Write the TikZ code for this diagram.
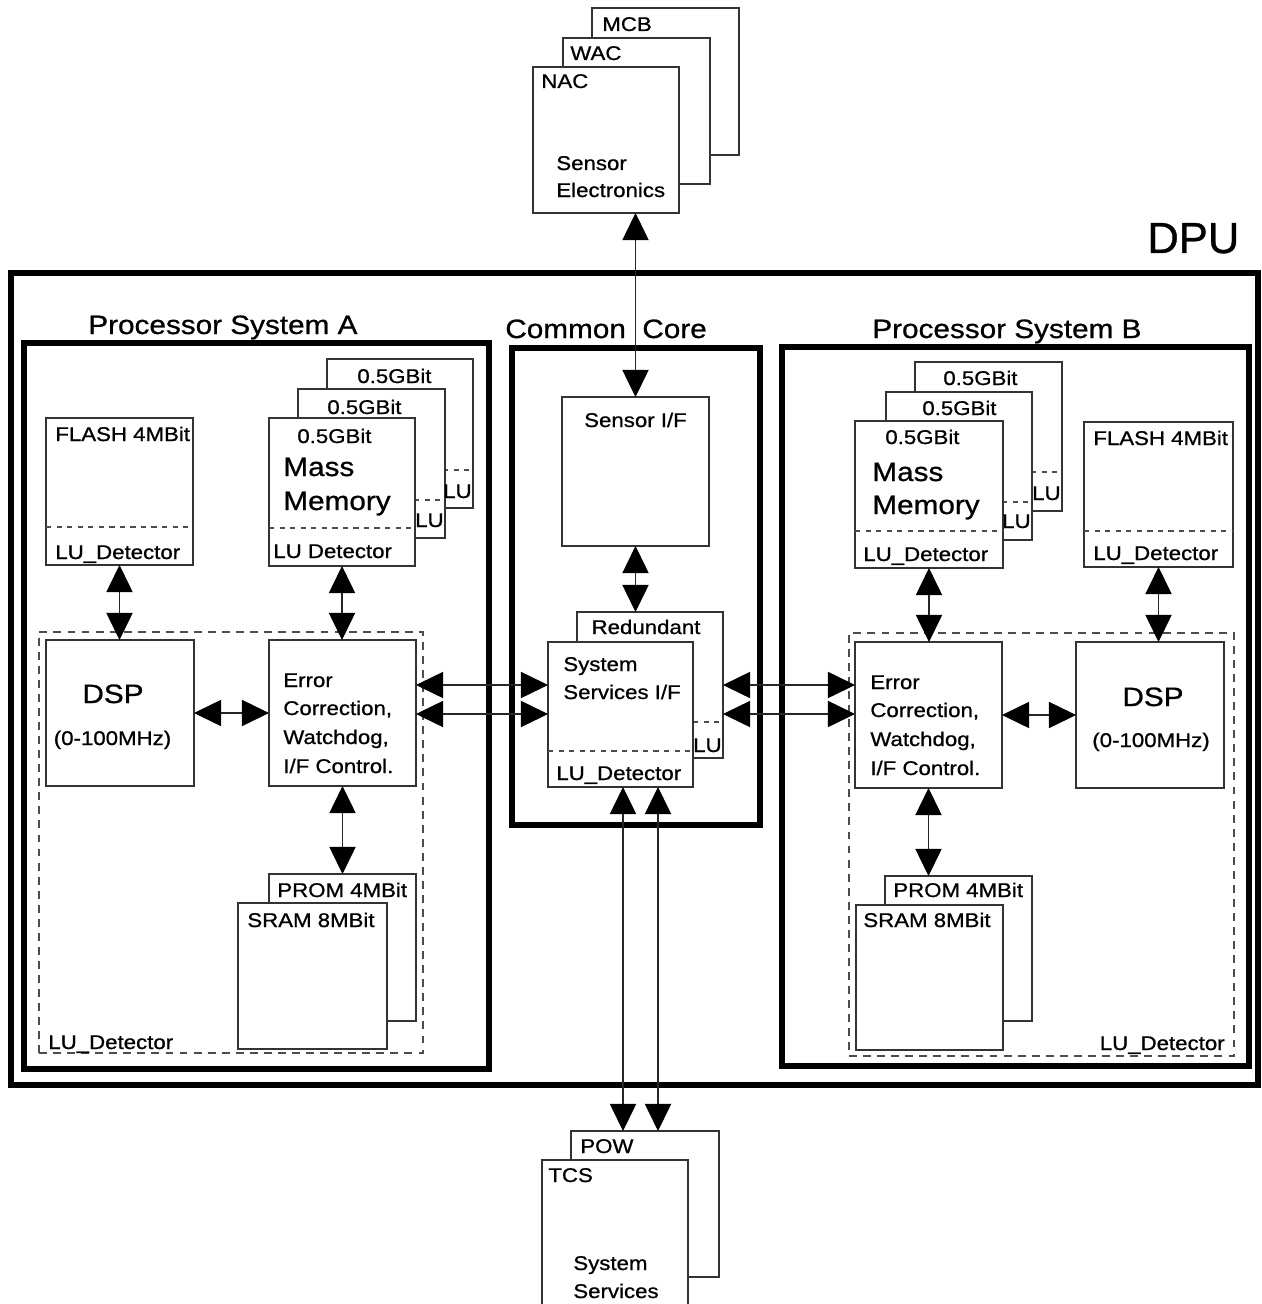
\documentclass[tikz,border=0pt]{standalone}
\usepackage{fontspec}
\setmainfont{Liberation Sans}[FakeStretch=1.12, FakeBold=0.8]
\newfontfamily\dpufont{Liberation Sans}[FakeBold=0.8]
\usetikzlibrary{arrows.meta,calc}
\begin{document}
\begin{tikzpicture}[x=0.02cm,y=-0.02cm,
  sz/.style 2 args={minimum width=#1*0.02cm, minimum height=#2*0.02cm},
  bx/.style={draw=black!80, line width=0.6pt, fill=white, inner sep=0pt, outer sep=0pt},
  frm/.style={draw=black, line width=3.9pt, inner sep=0pt, outer sep=0pt},
  dzone/.style={draw=black!70, line width=0.6pt, dash pattern=on 4.5pt off 3.5pt, inner sep=0pt, outer sep=0pt},
  sep/.style={draw=black!70, line width=0.6pt, dash pattern=on 3pt off 3pt},
  sm/.style={inner sep=0pt, anchor=base west, font=\fontsize{11.3}{13}\selectfont},
  lg/.style={inner sep=0pt, anchor=base west, font=\fontsize{15.1}{18}\selectfont},
  dbl/.style={{Triangle[length=15.5pt,width=15pt,color=black,fill=black]}-{Triangle[length=15.5pt,width=15pt,color=black,fill=black]}, line width=0.6pt, draw=black!85},
]
\useasboundingbox (0,0) rectangle (1261,1304);
\fill[white] (0,0) rectangle (1261,1304);

% ---------- sensor electronics stack
\node[bx, sz={147}{147}] (mcb) at (665.5,81.5) {};
\node[sm] (mcbt) at (602,31) {MCB};
\node[bx, sz={147}{146}] (wac) at (636.5,111) {};
\node[sm] (wact) at (570,60) {WAC};
\node[bx, sz={146}{146}] (nac) at (606,140) {};
\node[sm] (nact) at (541,88) {NAC};
\node[sm] (se1) at (556,170) {Sensor};
\node[sm] (se2) at (556,197) {Electronics};

% ---------- DPU and frames
\node[frm, line width=2.9pt, sz={1247}{812}] (dpu) at (634.5,679) {};
\node[inner sep=0pt, anchor=base west, font=\dpufont\fontsize{24.8}{28}\selectfont] (dput) at (1147,253) {DPU};

\node[frm, sz={465}{726}] (psa) at (256.5,706) {};
\node[lg] (psat) at (88,334) {Processor System A};
\node[frm, sz={248}{477}] (cc) at (636,586.5) {};
\node[lg] (cct) at (505,338) {Common~~Core};
\node[frm, sz={467}{719}] (psb) at (1015.5,706.5) {};
\node[lg] (psbt) at (872,338) {Processor System B};

% ---------- Processor System A
\node[dzone, sz={384}{421}] (dzA) at (231,842.5) {};
\node[sm] (dzAt) at (48,1049) {LU\_Detector};

\node[bx, sz={147}{147}] (flA) at (119.5,491.5) {};
\draw[sep] ($(flA.south west)+(0,-38)$) -- ($(flA.south east)+(0,-38)$);
\node[sm] (flAt) at (55,441) {FLASH 4MBit};
\node[sm] (flAl) at (55,559) {LU\_Detector};

\node[bx, sz={146}{149}] (mA3) at (400,433.5) {};
\draw[sep] ($(mA3.south west)+(0,-38)$) -- ($(mA3.south east)+(0,-38)$);
\node[sm] (mA3t) at (357,383) {0.5GBit};
\node[bx, sz={147}{149}] (mA2) at (371.5,463.5) {};
\draw[sep] ($(mA2.south west)+(0,-38)$) -- ($(mA2.south east)+(0,-38)$);
\node[sm] (mA2t) at (327,414) {0.5GBit};
\node[sm, anchor=base east] (mA3l) at (472,498) {LU};
\node[bx, sz={146}{148}] (mA) at (342,492) {};
\draw[sep] ($(mA.south west)+(0,-38)$) -- ($(mA.south east)+(0,-38)$);
\node[sm, anchor=base east] (mA2l) at (444,527) {LU};
\node[sm] (mAt) at (297,443) {0.5GBit};
\node[lg] (mAm1) at (283,476) {Mass};
\node[lg] (mAm2) at (283,510) {Memory};
\node[sm] (mAl) at (273,558) {LU Detector};

\node[bx, sz={148}{146}] (dspA) at (120,713) {};
\node[lg, anchor=base] (dspAt) at (113,703) {DSP};
\node[sm, anchor=base] (dspAf) at (112.5,745) {(0-100MHz)};

\node[bx, sz={147}{146}] (errA) at (342.5,713) {};
\node[sm] (errA1) at (283,687) {Error};
\node[sm] (errA2) at (283,715) {Correction,};
\node[sm] (errA3) at (283,744) {Watchdog,};
\node[sm] (errA4) at (283,773) {I/F Control.};

\node[bx, sz={147}{147}] (promA) at (342.5,947.5) {};
\node[sm] (promAt) at (277,897) {PROM 4MBit};
\node[bx, sz={149}{146}] (sramA) at (312.5,976) {};
\node[sm] (sramAt) at (247,927) {SRAM 8MBit};

% ---------- Common core
\node[bx, sz={147}{149}] (sif) at (635.5,471.5) {};
\node[sm, anchor=base] (sift) at (635.5,427) {Sensor I/F};

\node[bx, sz={146}{146}] (red) at (650,685) {};
\draw[sep] ($(red.south west)+(0,-36)$) -- ($(red.south east)+(0,-36)$);
\node[sm, anchor=base] (redt) at (646,634) {Redundant};
\node[bx, sz={145}{145}] (sys) at (620.5,714.5) {};
\draw[sep] ($(sys.south west)+(0,-36)$) -- ($(sys.south east)+(0,-36)$);
\node[sm, anchor=base east] (redl) at (722,752) {LU};
\node[sm] (syst1) at (563,671) {System};
\node[sm] (syst2) at (563,699) {Services I/F};
\node[sm] (sysl) at (556,780) {LU\_Detector};

% ---------- System services stack
\node[bx, sz={148}{146}] (pow) at (645,1204) {};
\node[sm] (powt) at (580,1153) {POW};
\node[bx, sz={146}{150}] (tcs) at (615,1235) {};
\node[sm] (tcst) at (548,1182) {TCS};
\node[sm] (tcs1) at (573,1270) {System};
\node[sm] (tcs2) at (573,1298) {Services};

% ---------- Processor System B
\node[dzone, sz={385}{423}] (dzB) at (1041.5,844.5) {};
\node[sm, anchor=base east] (dzBt) at (1225,1050) {LU\_Detector};

\node[bx, sz={147}{149}] (mB3) at (988.5,436.5) {};
\draw[sep] ($(mB3.south west)+(0,-39)$) -- ($(mB3.south east)+(0,-39)$);
\node[sm] (mB3t) at (943,385) {0.5GBit};
\node[bx, sz={146}{148}] (mB2) at (959,466) {};
\draw[sep] ($(mB2.south west)+(0,-38)$) -- ($(mB2.south east)+(0,-38)$);
\node[sm] (mB2t) at (922,415) {0.5GBit};
\node[sm, anchor=base east] (mB3l) at (1061,500) {LU};
\node[bx, sz={148}{147}] (mB) at (929,494.5) {};
\draw[sep] ($(mB.south west)+(0,-37)$) -- ($(mB.south east)+(0,-37)$);
\node[sm, anchor=base east] (mB2l) at (1031,528) {LU};
\node[sm] (mBt) at (885,444) {0.5GBit};
\node[lg] (mBm1) at (872,481) {Mass};
\node[lg] (mBm2) at (872,514) {Memory};
\node[sm] (mBl) at (863,561) {LU\_Detector};

\node[bx, sz={149}{145}] (flB) at (1158.5,494.5) {};
\draw[sep] ($(flB.south west)+(0,-36)$) -- ($(flB.south east)+(0,-36)$);
\node[sm] (flBt) at (1093,445) {FLASH 4MBit};
\node[sm] (flBl) at (1093,560) {LU\_Detector};

\node[bx, sz={147}{146}] (errB) at (928.5,715) {};
\node[sm] (errB1) at (870,689) {Error};
\node[sm] (errB2) at (870,717) {Correction,};
\node[sm] (errB3) at (870,746) {Watchdog,};
\node[sm] (errB4) at (870,775) {I/F Control.};

\node[bx, sz={148}{146}] (dspB) at (1150,715) {};
\node[lg, anchor=base] (dspBt) at (1153,706) {DSP};
\node[sm, anchor=base] (dspBf) at (1151,747) {(0-100MHz)};

\node[bx, sz={147}{145}] (promB) at (958.5,948.5) {};
\node[sm] (promBt) at (893,897) {PROM 4MBit};
\node[bx, sz={147}{145}] (sramB) at (929.5,977.5) {};
\node[sm] (sramBt) at (863,927) {SRAM 8MBit};

% ---------- connectors
\draw[dbl] (sif.north |- nac.south) -- (sif.north);
\draw[dbl] (sif.south) -- (sif.south |- red.north);
\draw[dbl] ($(sys.south)+(2.5,0)$) coordinate (b1) -- (b1 |- pow.north);
\draw[dbl] ($(sys.south)+(37.5,0)$) coordinate (b2) -- (b2 |- pow.north);

\draw[dbl] ($(errA.east)+(0,-28)$) coordinate (l1) -- (l1 -| sys.west);
\draw[dbl] ($(errA.east)+(0,1)$) coordinate (l2) -- (l2 -| sys.west);
\draw[dbl] (red.east) -- (red.east -| errB.west);
\draw[dbl] ($(red.east)+(0,29)$) coordinate (r2) -- (r2 -| errB.west);

\draw[dbl] (flA.south) -- (flA.south |- dspA.north);
\draw[dbl] (dspA.east) -- (errA.west);
\draw[dbl] (mA.south) -- (mA.south |- errA.north);
\draw[dbl] (errA.south) -- (errA.south |- promA.north);

\draw[dbl] (mB.south) -- (mB.south |- errB.north);
\draw[dbl] (flB.south) -- (flB.south |- dspB.north);
\draw[dbl] (errB.east) -- (dspB.west);
\draw[dbl] (errB.south) -- (errB.south |- promB.north);
\end{tikzpicture}
\end{document}
